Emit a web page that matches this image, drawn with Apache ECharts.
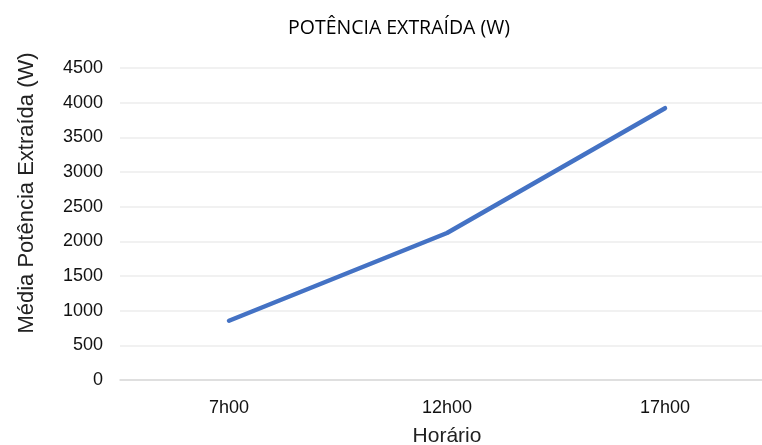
<!DOCTYPE html>
<html>
<head>
<meta charset="utf-8">
<script src="https://cdn.jsdelivr.net/npm/echarts@6/dist/echarts.min.js"></script>
<style>html,body{margin:0;padding:0;background:#fff}#c{width:762px;height:445px}</style>
</head>
<body>
<div id="c"></div>
<script>
var categories = ['7h00', '12h00', '17h00'];
var potencia = [855, 2120, 3920];
var titleText = 'POTÊNCIA EXTRAÍDA (W)';
var yName = 'Média Potência Extraída (W)';
var xName = 'Horário';

var chart = echarts.init(document.getElementById('c'), null, {renderer: 'canvas'});
chart.setOption({
  animation: false,
  backgroundColor: '#ffffff',
  title: {
    text: titleText,
    left: 283, top: 13,
    textStyle: {fontFamily: '"Open Sans", sans-serif', fontWeight: 'normal', fontSize: 19.5, color: '#000'}
  },
  grid: {left: 120, right: -12, top: 68, bottom: 65, containLabel: false, outerBoundsMode: 'none'},
  xAxis: {
    type: 'category', data: categories, boundaryGap: true,
    name: xName, nameLocation: 'middle', nameGap: 46,
    nameTextStyle: {fontFamily: '"Liberation Sans", Arial, sans-serif', fontSize: 21, color: '#222'},
    axisLine: {lineStyle: {color: '#d9d9d9', width: 1.5}},
    axisTick: {show: false},
    axisLabel: {fontFamily: '"Liberation Sans", Arial, sans-serif', fontSize: 18, color: '#111', margin: 19}
  },
  yAxis: {
    type: 'value', min: 0, max: 4500, interval: 500,
    name: yName, nameLocation: 'middle', nameGap: 82,
    nameTextStyle: {fontFamily: '"Liberation Sans", Arial, sans-serif', fontSize: 22, color: '#222', padding: [0, 0, 0, 62]},
    axisLine: {show: false}, axisTick: {show: false},
    axisLabel: {fontFamily: '"Liberation Sans", Arial, sans-serif', fontSize: 18, color: '#111', margin: 17,
      formatter: function (v) { return String(v); }},
    splitLine: {lineStyle: {color: '#ececec', width: 1.5}}
  },
  series: [{
    type: 'line', data: potencia, symbol: 'none',
    lineStyle: {color: '#4472C4', width: 4.5, cap: 'round'}
  }]
});
</script>
</body>
</html>
